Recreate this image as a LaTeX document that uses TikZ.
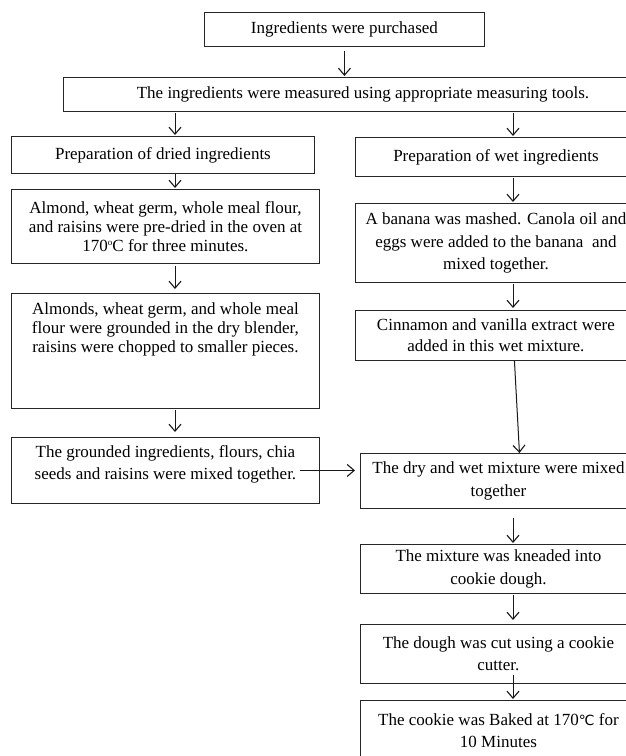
\documentclass[tikz,border=0pt]{standalone}
\usepackage{fontspec}
\setmainfont{Liberation Serif}
\newfontfamily\symfont{DejaVu Sans}
\usetikzlibrary{arrows.meta}
\begin{document}
\begin{tikzpicture}[x=1pt,y=-1pt,
  box/.style={draw=black!85, line width=0.9pt, align=center, inner sep=0pt, anchor=north west, font=\fontsize{17}{22.5}\selectfont},
  txt/.style={align=center, inner sep=0pt, font=\fontsize{17}{19}\selectfont},
  arr/.style={draw=black!90, line width=1pt, -{Straight Barb[length=7pt,width=12pt,line width=1.1pt]}}]
\useasboundingbox (0,0) rectangle (626,756);
\clip (0,0) rectangle (626,756);
\fill[white] (0,0) rectangle (626,756);

\node[box, minimum width=280pt, minimum height=34pt] (b1) at (204,12) {Ingredients were purchased};
\node[box, minimum width=599pt, minimum height=34pt] (b2) at (63,77) {The ingredients were measured using appropriate measuring tools.};
\node[box, minimum width=303pt, minimum height=37pt] (b3) at (11,136) {Preparation of dried ingredients};
\node[box, minimum width=281pt, minimum height=39pt] (b4) at (355,137) {Preparation of wet ingredients};
\node[box, minimum width=308pt, minimum height=74pt, font=\fontsize{17}{19.2}\selectfont] (b5) at (11,189) {Almond, wheat germ, whole meal flour,\\ and raisins were pre-dried in the oven at\\ 170{\fontsize{9}{9}\selectfont\raisebox{6pt}{o}}C for three minutes.};
\node[box, minimum width=281pt, minimum height=79pt] (b6) at (355,203) {A banana was mashed. Canola oil and\\ eggs were added to the banana\ \ and\\ mixed together.};
\node[box, minimum width=308pt, minimum height=115pt] (b7) at (11,293) {};
\node[txt] (t7) at ([yshift=-36pt]b7.north) {Almonds, wheat germ, and whole meal\\ flour were grounded in the dry blender,\\ raisins were chopped to smaller pieces.};
\node[box, minimum width=281pt, minimum height=50pt, font=\fontsize{17}{20.5}\selectfont] (b8) at (355,310) {Cinnamon and vanilla extract were\\ added in this wet mixture.};
\node[box, minimum width=276pt, minimum height=55pt] (b9) at (360,453) {The dry and wet mixture were mixed\\ together};
\node[box, minimum width=308pt, minimum height=66pt] (b10) at (11,437) {};
\node[txt, font=\fontsize{17}{22}\selectfont] (t10) at ([yshift=6pt]b10.center) {The grounded ingredients, flours, chia\\ seeds and raisins were mixed together.};
\node[box, minimum width=276pt, minimum height=49pt] (b11) at (360,544) {The mixture was kneaded into\\ cookie dough.};
\node[box, minimum width=276pt, minimum height=59pt] (b12) at (360,624) {The dough was cut using a cookie\\ cutter.};
\node[box, minimum width=276pt, minimum height=60pt] (b13) at (360,700) {The cookie was Baked at 170{\symfont\fontsize{14}{14}\selectfont ℃} for\\ 10 Minutes};

\coordinate (xl) at (175,0);
\coordinate (xr) at (513,0);

\draw[arr, shorten <=4pt, shorten >=1pt] (b1.south) -- (b2.north -| b1.south);
\draw[arr, shorten <=1pt, shorten >=1pt] (b2.south -| xl) -- (b3.north -| xl);
\draw[arr, shorten <=1pt, shorten >=1pt] (b2.south -| xr) -- (b4.north -| xr);
\draw[arr, shorten >=1pt] (b3.south -| xl) -- (b5.north -| xl);
\draw[arr, shorten <=1pt, shorten >=1pt] (b4.south -| xr) -- (b6.north -| xr);
\draw[arr, shorten <=2pt, shorten >=4pt] (b5.south -| xl) -- (b7.north -| xl);
\draw[arr, shorten <=1pt, shorten >=2pt] (b6.south -| xr) -- (b8.north -| xr);
\draw[arr, shorten <=1pt, shorten >=5pt] (b7.south -| xl) -- (b10.north -| xl);
\draw[arr] ([xshift=18.5pt]b8.south) -- ([xshift=21pt]b9.north);
\draw[arr, shorten >=5pt] ([xshift=-20pt]b10.east) -- (b9.west |- b10.east);
\draw[arr, shorten <=9pt, shorten >=1pt] (b9.south -| xr) -- (b11.north -| xr);
\draw[arr, shorten <=1pt, shorten >=4pt] (b11.south -| xr) -- (b12.north -| xr);
\draw[arr, shorten <=-9pt, shorten >=1pt] (b12.south -| xr) -- (b13.north -| xr);
\end{tikzpicture}
\end{document}
